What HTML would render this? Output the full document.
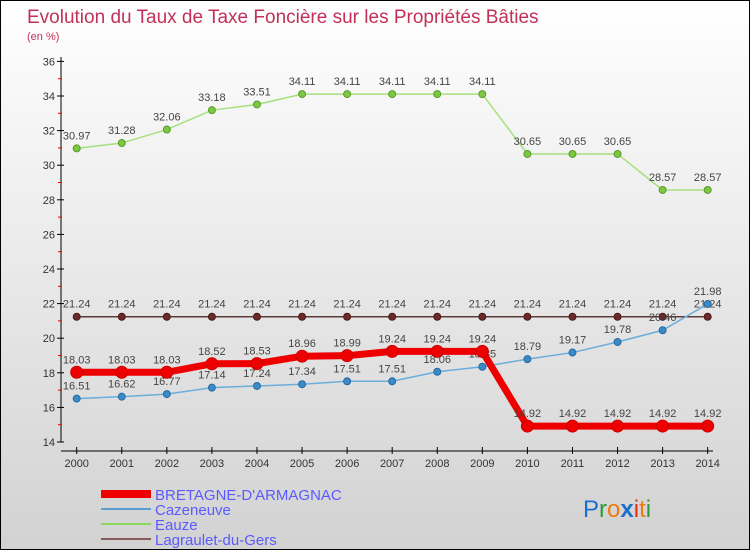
<!DOCTYPE html>
<html><head><meta charset="utf-8"><style>
body{margin:0}
#c{width:750px;height:550px;position:relative;overflow:hidden;background:linear-gradient(#ffffff,#d2d2d2);border:1px solid #000;box-sizing:border-box;font-family:"Liberation Sans",sans-serif}
</style></head><body>
<div id="c">
<svg id="s" width="750" height="550" xmlns="http://www.w3.org/2000/svg" style="position:absolute;left:0;top:0">
<text x="26" y="22" font-size="19" fill="#c2305a">Evolution du Taux de Taxe Foncière sur les Propriétés Bâties</text>
<text x="26" y="39" font-size="11" fill="#c2305a">(en %)</text>
<g id="axes"></g><g id="series"></g>
<g>
<rect x="100" y="489" width="50" height="8" fill="#e00"/>
<text x="154" y="499" font-size="15" fill="#5a5aff">BRETAGNE-D'ARMAGNAC</text>
<line x1="100" y1="508" x2="150" y2="508" stroke="#5c9ed0" stroke-width="2"/>
<text x="154" y="514" font-size="15" fill="#5a5aff">Cazeneuve</text>
<line x1="100" y1="523" x2="150" y2="523" stroke="#8fd860" stroke-width="2"/>
<text x="154" y="529" font-size="15" fill="#5a5aff">Eauze</text>
<line x1="100" y1="538" x2="150" y2="538" stroke="#8a5a5a" stroke-width="2"/>
<text x="154" y="544" font-size="15" fill="#5a5aff">Lagraulet-du-Gers</text>
</g>
<g font-size="24" font-family="Liberation Sans,sans-serif">
<text x="582" y="516"><tspan fill="#1a6fd0">P</tspan><tspan fill="#2a9a3a">r</tspan><tspan fill="#f07a10">o</tspan><tspan fill="#1a6fd0" font-weight="bold">x</tspan><tspan fill="#e03010">i</tspan><tspan fill="#f07a10">t</tspan><tspan fill="#2a9a3a">i</tspan></text>
</g>
</svg>
</div>
<script>
const years=[2000,2001,2002,2003,2004,2005,2006,2007,2008,2009,2010,2011,2012,2013,2014];
const bretagne=[18.03,18.03,18.03,18.52,18.53,18.96,18.99,19.24,19.24,19.24,14.92,14.92,14.92,14.92,14.92];
const cazeneuve=[16.51,16.62,16.77,17.14,17.24,17.34,17.51,17.51,18.06,18.35,18.79,19.17,19.78,20.46,21.98];
const eauze=[30.97,31.28,32.06,33.18,33.51,34.11,34.11,34.11,34.11,34.11,30.65,30.65,30.65,28.57,28.57];
const lagraulet=[21.24,21.24,21.24,21.24,21.24,21.24,21.24,21.24,21.24,21.24,21.24,21.24,21.24,21.24,21.24];
const yTicks=[14,16,18,20,22,24,26,28,30,32,34,36];
const NS="http://www.w3.org/2000/svg";
const X=i=>75.7+i*45.07, Y=v=>441-(v-14)*17.3;
function mk(t,a,p){const e=document.createElementNS(NS,t);for(const k in a)e.setAttribute(k,a[k]);p.appendChild(e);return e;}
const ax=document.getElementById('axes'),sg=document.getElementById('series');
let e=mk('line',{x1:60,y1:56,x2:60,y2:441,stroke:'#000'},ax);


e=mk('line',{x1:60,y1:450,x2:712,y2:450,stroke:'#000'},ax);


yTicks.forEach(v=>{const y=Y(v);mk('line',{x1:56,y1:y,x2:63,y2:y,stroke:'#000'},ax);
 if(v<36)mk('line',{x1:57,y1:Y(v+1),x2:61,y2:Y(v+1),stroke:'#e00'},ax);
 const t=mk('text',{x:54,y:y+4,'font-size':11,'text-anchor':'end',fill:'#333'},ax);t.textContent=v;
 
 });
years.forEach((yr,i)=>{mk('line',{x1:X(i),y1:446,x2:X(i),y2:453,stroke:'#000'},ax);
 const t=mk('text',{x:X(i),y:466,'font-size':11,'text-anchor':'middle',fill:'#333'},ax);t.textContent=yr;
 
 });
function series(d,name,col,w,r,dot,stroke){
 const g=mk('g',{},sg);
 
 
 mk('polyline',{points:d.map((v,i)=>X(i)+','+Y(v)).join(' '),fill:'none',stroke:col,'stroke-width':w},g);
 d.forEach((v,i)=>{const c=mk('circle',{cx:X(i),cy:Y(v),r:r,fill:dot,stroke:stroke,'stroke-width':1},g);
  
  
  const t=mk('text',{x:X(i),y:Y(v)-9,'font-size':11,'text-anchor':'middle',fill:'#444'},g);t.textContent=v.toFixed(2).replace(/0$/,'');
  
  });
}
series(eauze,'eauze','#a6e07c',1.5,3.5,'#7cc840','#5a9a30');
series(lagraulet,'lagraulet','#5a3a3a',1.5,3.5,'#6a2a2a','#4a1a1a');
series(cazeneuve,'cazeneuve','#6aaedc',1.5,3.5,'#3a8ac8','#2a6aa0');
series(bretagne,'bretagne','#ee0000',7,6,'#ee0000','#c00');
</script>
</body></html>
